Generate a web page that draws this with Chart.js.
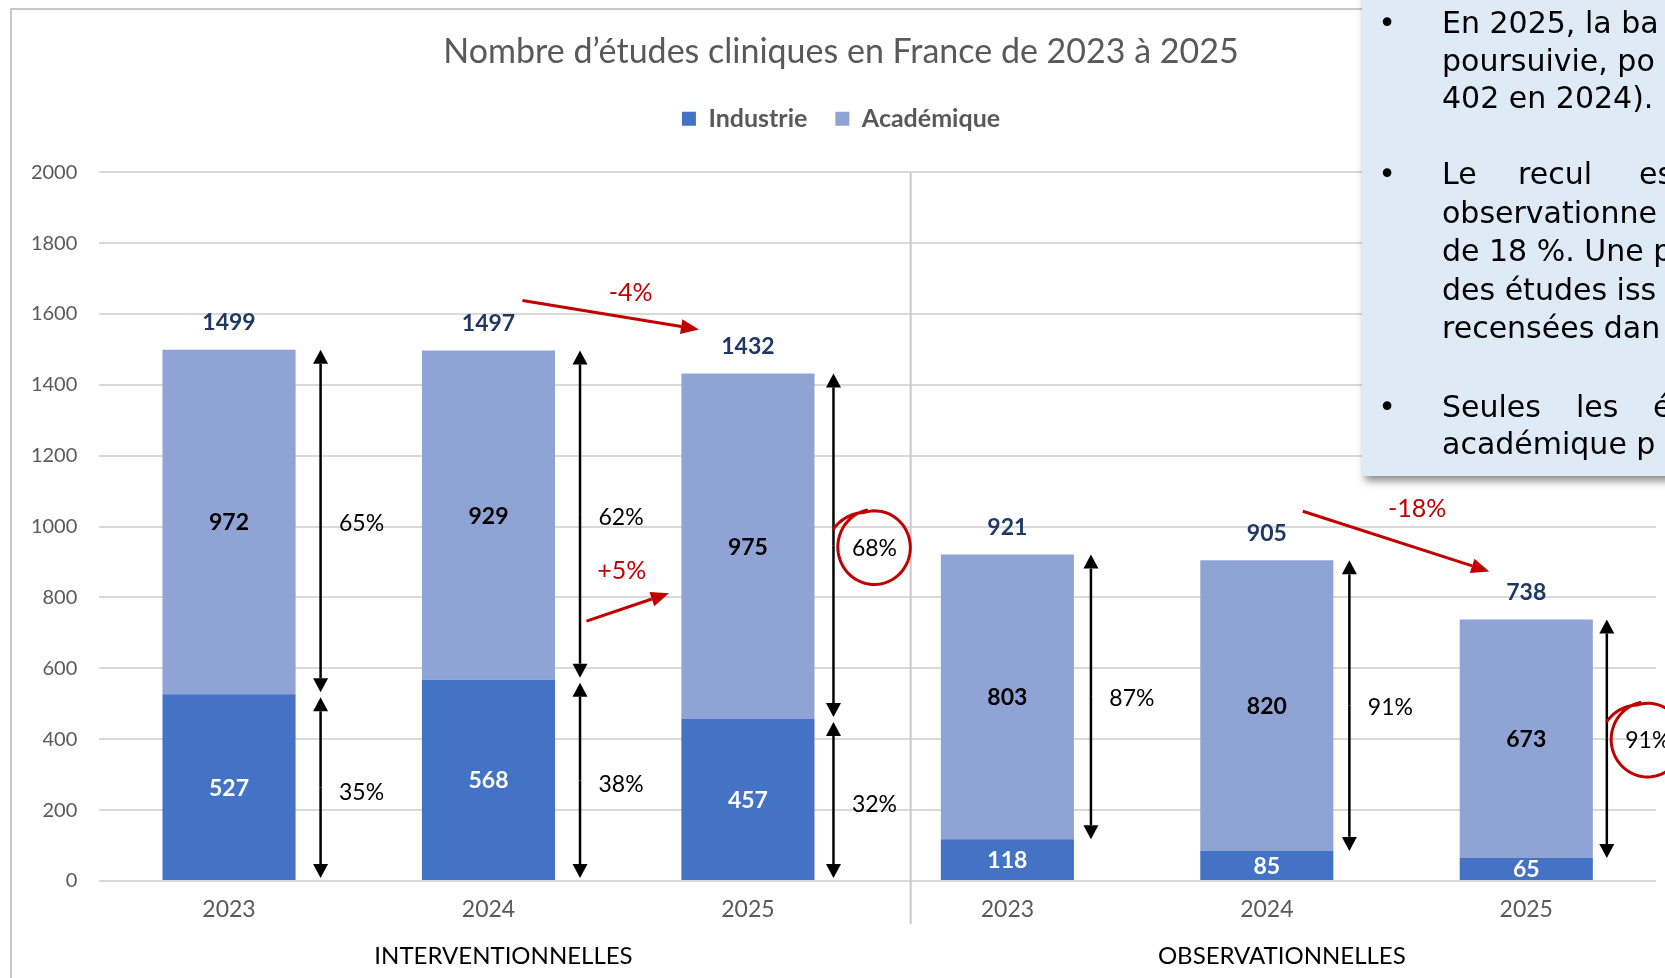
<!DOCTYPE html>
<html lang="fr">
<head>
<meta charset="utf-8">
<title>Nombre d’études cliniques en France de 2023 à 2025</title>
<script src="https://cdn.jsdelivr.net/npm/chart.js@4.4.1/dist/chart.umd.min.js"></script>
<style>
  html, body { margin: 0; padding: 0; background: #fff; overflow: hidden; }
  #wrap { width: 1665px; height: 978px; }
</style>
</head>
<body>
<div id="wrap"><canvas id="etudesChart" width="1665" height="978"></canvas></div>
<script>
// data
const years = ["2023", "2024", "2025", "2023", "2024", "2025"];
const groups = ["INTERVENTIONNELLES", "OBSERVATIONNELLES"];
const industrie = [527, 568, 457, 118, 85, 65];
const academique = [972, 929, 975, 803, 820, 673];
const yMin = 0, yMax = 2000, yStep = 200;

const totals = industrie.map((v, i) => v + academique[i]);

// red trend annotations (which series, from bar -> to bar)
const trends = [
    { series: "total", from: 1, to: 2, start: [34, -50], end: [-49, -44], text: [20, -22] },
    { series: "academique", from: 1, to: 2, start: [98, 106], end: [-79, 47], text: [-6, -36] },
    { series: "total", from: 4, to: 5, start: [36, -49], end: [-37, -48], text: [21, -32] }
];
const circled = [2, 5];
const arrowGap = [25, 25, 19, 17, 16, 14];

// text box lines, cut by the right edge of the slide
const noteLines = [
    { y: 33, bullet: true, parts: [["En 2025, la ba", 1442]] },
    { y: 70.5, parts: [["poursuivie, po", 1442]] },
    { y: 108, parts: [["402 en 2024).", 1442]] },
    { y: 184, bullet: true, parts: [["Le", 1442], ["recul", 1518], ["es", 1639]] },
    { y: 222.5, parts: [["observationne", 1442]] },
    { y: 261, parts: [["de 18 %. Une p", 1442]] },
    { y: 299.5, parts: [["des études iss", 1442]] },
    { y: 338, parts: [["recensées dan", 1442]] },
    { y: 417, bullet: true, parts: [["Seules", 1442], ["les", 1576], ["é", 1653]] },
    { y: 454, parts: [["académique p", 1442]] }
];

const pct = (a, b) => Math.round(a / b * 100) + "%";

function arrow(ctx, x1, y1, x2, y2, color, lw, head, headW) {
    const a = Math.atan2(y2 - y1, x2 - x1);
    const bx = x2 - head * Math.cos(a), by = y2 - head * Math.sin(a);
    const hw = headW / 2;
    ctx.strokeStyle = color;
    ctx.lineWidth = lw;
    ctx.beginPath();
    ctx.moveTo(x1, y1);
    ctx.lineTo(bx, by);
    ctx.stroke();
    ctx.fillStyle = color;
    ctx.beginPath();
    ctx.moveTo(x2, y2);
    ctx.lineTo(bx + hw * Math.sin(a), by - hw * Math.cos(a));
    ctx.lineTo(bx - hw * Math.sin(a), by + hw * Math.cos(a));
    ctx.closePath();
    ctx.fill();
}

function doubleArrow(ctx, x, y1, y2) {
    const mid = (y1 + y2) / 2;
    arrow(ctx, x, mid, x, y1, "#000", 2.5, 14, 15);
    arrow(ctx, x, mid, x, y2, "#000", 2.5, 14, 15);
}

function scribble(ctx, cx, cy, rx, ry) {
    ctx.strokeStyle = "#C00000";
    ctx.lineWidth = 3;
    ctx.beginPath();
    const start = -1.75;
    for (let t = 0; t <= 1.0001; t += 0.01) {
        const ang = start - t * (2 * Math.PI + 1.0);
        const k = 1 - 0.05 * t + (t > 0.88 ? (t - 0.88) * 2.2 : 0);
        const px = cx + rx * k * Math.cos(ang);
        const py = cy + ry * k * Math.sin(ang);
        if (t === 0) ctx.moveTo(px, py); else ctx.lineTo(px, py);
    }
    ctx.stroke();
}

const legendSpacer = {
    id: "legendSpacer",
    beforeInit(chart) {
        const fit = chart.legend.fit;
        chart.legend.fit = function () {
            fit.bind(chart.legend)();
            this.height += 31;
        };
    }
};

const annotate = {
    id: "annotate",
    beforeDraw(chart) {
        const { ctx, width, height } = chart;
        ctx.save();
        ctx.fillStyle = "#fff";
        ctx.fillRect(0, 0, width, height);
        ctx.strokeStyle = "#C8C8C8";
        ctx.lineWidth = 2;
        ctx.beginPath();
        ctx.moveTo(11, height);
        ctx.lineTo(11, 9);
        ctx.lineTo(width, 9);
        ctx.stroke();
        ctx.restore();
    },
    beforeDatasetsDraw(chart) {
        const { ctx, chartArea, scales: { x } } = chart;
        const sx = (x.getPixelForValue(2) + x.getPixelForValue(3)) / 2 + 33;
        ctx.save();
        ctx.strokeStyle = "#C8C8C8";
        ctx.lineWidth = 2;
        ctx.beginPath();
        ctx.moveTo(sx, chartArea.top);
        ctx.lineTo(sx, chartArea.bottom + 43);
        ctx.stroke();
        ctx.restore();
    },
    afterDatasetsDraw(chart) {
        const ctx = chart.ctx;
        const ind = chart.getDatasetMeta(0).data;
        const aca = chart.getDatasetMeta(1).data;
        ctx.save();
        ctx.textAlign = "center";
        ctx.textBaseline = "middle";

        years.forEach((_, i) => {
            const b0 = ind[i], b1 = aca[i];
            const mid0 = (b0.y + b0.base) / 2, mid1 = (b1.y + b1.base) / 2;
            ctx.font = "bold 23px Lato";
            ctx.fillStyle = "#fff";
            ctx.fillText(industrie[i], b0.x, mid0 + 1);
            ctx.fillStyle = "#000";
            ctx.fillText(academique[i], b1.x, mid1 + 1);
            ctx.fillStyle = "#1F3864";
            ctx.fillText(totals[i], b1.x, b1.y - 27);

            // share arrows
            const ax = b1.x + b1.width / 2 + arrowGap[i];
            ctx.font = "23px Lato";
            if (i < 3) {
                doubleArrow(ctx, ax, b1.y, b1.base - 2);
                doubleArrow(ctx, ax, b0.y + 3, b0.base - 2);
                ctx.fillStyle = "#000";
                ctx.fillText(pct(academique[i], totals[i]), ax + 41, mid1 + 2);
                ctx.fillText(pct(industrie[i], totals[i]), ax + 41, mid0 + 5);
            } else {
                doubleArrow(ctx, ax, b1.y, b1.base);
                ctx.fillStyle = "#000";
                ctx.fillText(pct(academique[i], totals[i]), ax + 41, mid1 + 2);
            }
            if (circled.includes(i)) {
                scribble(ctx, ax + 41, mid1 + 1, 37, 38);
            }
        });

        // red evolution arrows
        trends.forEach(t => {
            const vals = t.series === "total" ? totals : academique;
            const anchor = j => {
                const b = aca[j];
                return t.series === "total" ? [b.x, b.y] : [b.x, (b.y + b.base) / 2];
            };
            const p1 = anchor(t.from), p2 = anchor(t.to);
            const x1 = p1[0] + t.start[0], y1 = p1[1] + t.start[1];
            const x2 = p2[0] + t.end[0], y2 = p2[1] + t.end[1];
            arrow(ctx, x1, y1, x2, y2, "#C00000", 3, 18, 15);
            const change = Math.round((vals[t.to] - vals[t.from]) / vals[t.from] * 100);
            ctx.font = "25px Lato";
            ctx.fillStyle = "#C00000";
            ctx.fillText((change > 0 ? "+" : "") + change + "%", (x1 + x2) / 2 + t.text[0], (y1 + y2) / 2 + t.text[1]);
        });
        ctx.restore();
    },
    afterDraw(chart) {
        const ctx = chart.ctx;
        ctx.save();
        ctx.shadowColor = "rgba(0,0,0,0.45)";
        ctx.shadowBlur = 8;
        ctx.shadowOffsetX = 3;
        ctx.shadowOffsetY = 5;
        ctx.fillStyle = "#DEEAF6";
        ctx.fillRect(1362, -20, 330, 496);
        ctx.restore();

        ctx.save();
        ctx.fillStyle = "#000";
        ctx.textBaseline = "alphabetic";
        ctx.font = '30px "DejaVu Sans"';
        noteLines.forEach(line => {
            if (line.bullet) {
                ctx.textAlign = "center";
                ctx.fillText("•", 1387, line.y);
            }
            ctx.textAlign = "left";
            line.parts.forEach(([txt, px]) => ctx.fillText(txt, px, line.y));
        });
        ctx.restore();
    }
};

function draw() {
    Chart.defaults.font.family = "Lato";
    const ctx = document.getElementById("etudesChart").getContext("2d");
    new Chart(ctx, {
        type: "bar",
        data: {
            labels: years,
            datasets: [
                {
                    label: "Industrie",
                    data: industrie,
                    backgroundColor: "#4472C4",
                    borderWidth: 0
                },
                {
                    label: "Académique",
                    data: academique,
                    backgroundColor: "#8FA3D5",
                    borderWidth: 0
                }
            ]
        },
        options: {
            responsive: false,
            animation: false,
            devicePixelRatio: 1,
            layout: { padding: { left: 26, right: 9, top: 18, bottom: 4.6 } },
            datasets: { bar: { categoryPercentage: 1, barPercentage: 0.513 } },
            plugins: {
                title: {
                    display: true,
                    text: "Nombre d’études cliniques en France de 2023 à 2025",
                    color: "#595959",
                    font: { size: 34, weight: "normal" },
                    padding: { top: 13.4, bottom: 6 }
                },
                legend: {
                    position: "top",
                    labels: {
                        boxWidth: 14,
                        boxHeight: 14,
                        padding: 28,
                        color: "#595959",
                        font: { size: 25, weight: "bold" }
                    }
                },
                tooltip: { enabled: false }
            },
            scales: {
                x: {
                    stacked: true,
                    grid: { display: false, drawTicks: false },
                    border: { display: false },
                    ticks: { color: "#595959", font: { size: 23 }, padding: 15 }
                },
                x2: {
                    type: "category",
                    labels: groups,
                    position: "bottom",
                    weight: 1,
                    offset: true,
                    grid: { display: false, drawTicks: false },
                    border: { display: false },
                    ticks: { color: "#000", font: { size: 24 }, padding: 3, labelOffset: 15 }
                },
                y: {
                    stacked: true,
                    min: yMin,
                    max: yMax,
                    ticks: {
                        stepSize: yStep,
                        color: "#595959",
                        font: { size: 20 },
                        padding: 22,
                        callback: v => String(v)
                    },
                    grid: { color: "#D9D9D9", lineWidth: 2, drawTicks: false },
                    border: { display: false },
                    afterFit(scale) { scale.width = 73.3; }
                }
            }
        },
        plugins: [legendSpacer, annotate]
    });
}

document.addEventListener("DOMContentLoaded", function () {
    Promise.all([
        document.fonts.load("30px Lato"),
        document.fonts.load("bold 23px Lato"),
        document.fonts.load('30px "DejaVu Sans"')
    ]).then(draw, draw);
});
</script>
</body>
</html>
